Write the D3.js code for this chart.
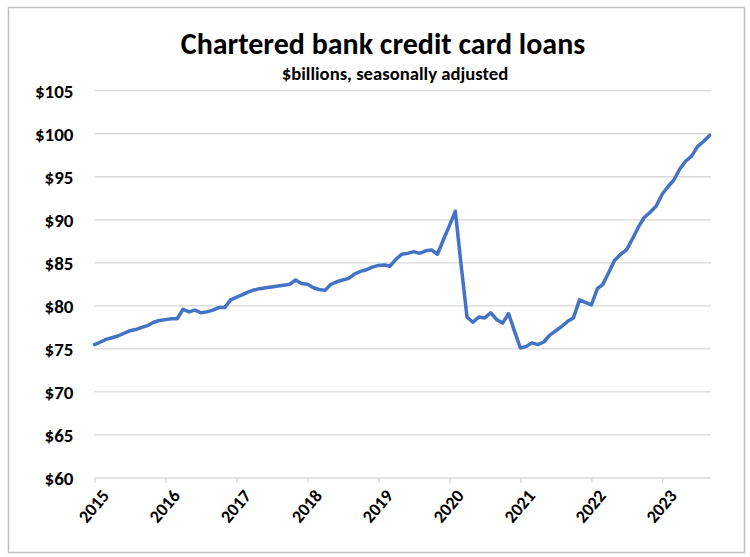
<!DOCTYPE html>
<html>
<head>
<meta charset="utf-8">
<script src="https://cdn.jsdelivr.net/npm/d3@7"></script>
<style>
  html, body { margin: 0; padding: 0; background: #fff; }
  svg { display: block; }
  text { font-family: Carlito, "Liberation Sans Narrow", Lato, "Liberation Sans", sans-serif; font-weight: bold; fill: #000; }
</style>
</head>
<body>
<svg id="chart" width="750" height="557"></svg>
<script>
// Chartered bank credit card loans, $ billions, seasonally adjusted (monthly, Jan–Dec)
const years = [2015, 2016, 2017, 2018, 2019, 2020, 2021, 2022, 2023];
const loans2015 = [75.5, 75.8, 76.1, 76.3, 76.5, 76.8, 77.1, 77.25, 77.5, 77.7, 78.1, 78.3];
const loans2016 = [78.4, 78.5, 78.5, 79.6, 79.3, 79.5, 79.2, 79.3, 79.5, 79.8, 79.8, 80.7];
const loans2017 = [81.0, 81.3, 81.6, 81.85, 82.0, 82.1, 82.2, 82.3, 82.4, 82.5, 83.0, 82.6];
const loans2018 = [82.5, 82.1, 81.9, 81.8, 82.5, 82.8, 83.0, 83.2, 83.7, 84.0, 84.2, 84.5];
const loans2019 = [84.7, 84.75, 84.6, 85.4, 86.0, 86.1, 86.3, 86.1, 86.4, 86.5, 86.0, 87.65];
const loans2020 = [89.3, 91.0, 84.9, 78.7, 78.1, 78.7, 78.6, 79.2, 78.4, 78.0, 79.1, 77.1];
const loans2021 = [75.1, 75.3, 75.7, 75.5, 75.8, 76.6, 77.1, 77.6, 78.2, 78.6, 80.7, 80.4];
const loans2022 = [80.1, 82.0, 82.5, 83.9, 85.3, 86.0, 86.5, 87.8, 89.2, 90.3, 90.9, 91.6];
const loans2023 = [93.0, 93.9, 94.6, 95.9, 96.8, 97.4, 98.5, 99.1, 99.8];
const loansByYear = [loans2015, loans2016, loans2017, loans2018, loans2019, loans2020, loans2021, loans2022, loans2023];

const yTicks = [60, 65, 70, 75, 80, 85, 90, 95, 100, 105];

const titleText = "Chartered bank credit card loans";
const subtitleText = "$billions, seasonally adjusted";

// Monthly rows built from the per-year arrays
const rows = [];
years.forEach((yr, k) => {
  loansByYear[k].forEach((v, m) => rows.push({ date: new Date(yr, m, 1), value: v }));
});

const svg = d3.select("#chart");

// Outer frame
svg.append("rect")
  .attr("x", 8.5).attr("y", 7.5)
  .attr("width", 736).attr("height", 545)
  .attr("fill", "#fff")
  .attr("stroke", "#bfbfbf")
  .attr("stroke-width", 1.5);

const plotLeft = 94.5, plotRight = 711;
const x = d3.scaleTime()
  .domain([rows[0].date, rows[rows.length - 1].date])
  .range([plotLeft, 709.5]);
const y = d3.scaleLinear()
  .domain([60, 105])
  .range([478, 90.7]);

// Horizontal gridlines
svg.append("g")
  .selectAll("line")
  .data(yTicks.filter(t => t !== 60))
  .join("line")
  .attr("x1", plotLeft).attr("x2", plotRight)
  .attr("y1", d => y(d)).attr("y2", d => y(d))
  .attr("stroke", "#d9d9d9")
  .attr("stroke-width", 1.3);

// Y axis labels
const yAxis = svg.append("g")
  .attr("transform", `translate(${plotLeft},0)`)
  .call(d3.axisLeft(y).tickValues(yTicks).tickSize(0).tickPadding(21)
    .tickFormat(d => "$" + d));
yAxis.select(".domain").remove();
yAxis.selectAll("text")
  .attr("font-size", 19)
  .attr("dy", "0.35em");

// X axis
const xAxis = svg.append("g")
  .attr("transform", `translate(0,${y(60)})`)
  .call(d3.axisBottom(x).ticks(d3.timeYear.every(1)).tickSize(5)
    .tickFormat(d3.timeFormat("%Y")));
xAxis.select(".domain")
  .attr("d", `M${plotLeft},0H${plotRight}`)
  .attr("stroke", "#d9d9d9")
  .attr("stroke-width", 1.3);
xAxis.selectAll(".tick line")
  .attr("stroke", "#d9d9d9")
  .attr("stroke-width", 1.3);
xAxis.selectAll("text")
  .attr("font-size", 18)
  .attr("text-anchor", "end")
  .attr("dy", 0)
  .attr("transform", "translate(9,13) rotate(-50)");

// Loan series line
const line = d3.line()
  .x(d => x(d.date))
  .y(d => y(d.value));
svg.append("path")
  .datum(rows)
  .attr("d", line)
  .attr("fill", "none")
  .attr("stroke", "#4472c4")
  .attr("stroke-width", 3.5)
  .attr("stroke-linejoin", "round")
  .attr("stroke-linecap", "round");

// Titles
svg.append("text")
  .attr("x", 383).attr("y", 54)
  .attr("text-anchor", "middle")
  .attr("font-size", 30)
  .text(titleText);
svg.append("text")
  .attr("x", 395).attr("y", 80)
  .attr("text-anchor", "middle")
  .attr("font-size", 18.7)
  .text(subtitleText);
</script>
</body>
</html>
